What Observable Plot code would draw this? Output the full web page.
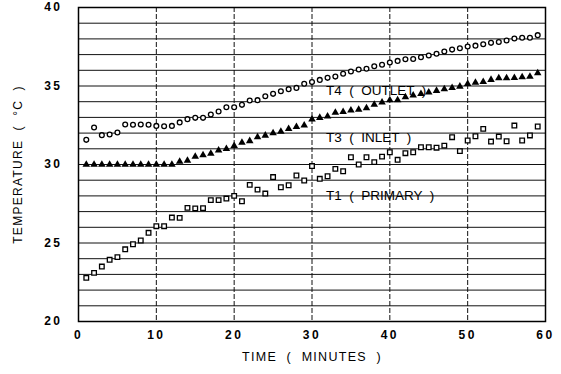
<!DOCTYPE html>
<html>
<head>
<meta charset="utf-8">
<script src="https://cdn.jsdelivr.net/npm/d3@7"></script>
<script src="https://cdn.jsdelivr.net/npm/@observablehq/plot@0.6"></script>
<style>
  html, body { margin: 0; padding: 0; background: #fff; }
  #chart svg g[aria-label="x-axis tick label"] text,
  #chart svg g[aria-label="y-axis tick label"] text { letter-spacing: 2.5px; }
  #chart svg .axtitle text { letter-spacing: 1.3px; }
</style>
</head>
<body>
<div id="chart"></div>
<script>
const minutes = [1,2,3,4,5,6,7,8,9,10,11,12,13,14,15,16,17,18,19,20,21,22,23,24,25,26,27,28,29,30,31,32,33,34,35,36,37,38,39,40,41,42,43,44,45,46,47,48,49,50,51,52,53,54,55,56,57,58,59];
const t4Outlet = [31.57,32.36,31.87,31.91,32.04,32.55,32.53,32.55,32.53,32.46,32.44,32.46,32.68,32.89,32.97,32.97,33.18,33.38,33.65,33.65,33.8,34.08,34.1,34.35,34.5,34.67,34.8,34.88,35.14,35.25,35.39,35.52,35.6,35.78,35.92,36.05,36.1,36.26,36.35,36.5,36.6,36.7,36.72,36.83,36.94,37.05,37.2,37.32,37.4,37.52,37.57,37.66,37.75,37.8,37.9,38.03,38.07,38.07,38.24];
const t3Inlet = [30.0,30.0,30.0,30.0,30.0,30.0,30.0,30.0,30.0,30.0,30.0,30.0,30.19,30.25,30.5,30.6,30.7,30.9,31.0,31.19,31.4,31.5,31.74,31.85,32.0,32.1,32.27,32.4,32.5,32.88,32.98,33.07,33.3,33.36,33.45,33.5,33.6,33.82,33.96,34.1,34.1,34.29,34.4,34.5,34.6,34.7,34.8,34.88,34.97,35.14,35.22,35.27,35.4,35.5,35.5,35.52,35.57,35.6,35.82];
const t1Primary = [22.78,23.1,23.5,23.93,24.1,24.6,24.92,25.16,25.65,26.07,26.07,26.62,26.6,27.24,27.2,27.22,27.73,27.73,27.83,28.0,27.66,28.7,28.4,28.15,29.2,28.55,28.68,29.3,28.98,29.9,29.09,29.25,29.72,29.57,30.46,30.0,30.46,30.15,30.5,30.78,30.3,30.72,30.78,31.1,31.1,31.07,31.2,31.74,30.85,31.53,31.8,32.27,31.46,31.78,31.48,32.48,31.53,31.85,32.42];

const xTicks = [0,10,20,30,40,50,60];
const yTicks = [20,25,30,35,40];
const yGrid = [20,21,22,23,24,25,26,27,28,29,30,31,32,33,34,35,36,37,38,39,40];
const seriesLabels = [
  {name: "T4  (  OUTLET  )", x: 31.8, y: 34.7},
  {name: "T3  (  INLET  )", x: 31.8, y: 31.7},
  {name: "T1  (  PRIMARY  )", x: 31.8, y: 28.0}
];
const xTitle = "TIME  (  MINUTES  )";
const yTitle = "TEMPERATURE  (  °C  )";

const rows = (vals) => minutes.map((m, i) => ({m, v: vals[i]}));

const chart = Plot.plot({
  width: 561,
  height: 374,
  marginLeft: 78,
  marginRight: 16,
  marginTop: 7,
  marginBottom: 53,
  style: {fontFamily: "Liberation Sans, Arial, sans-serif", background: "#fff", color: "#000", overflow: "visible"},
  x: {domain: [0, 60], ticks: xTicks, tickSize: 0, tickPadding: 9, label: null},
  y: {domain: [20, 40], ticks: yTicks, tickSize: 0, tickPadding: 15, label: null},
  marks: [
    Plot.ruleY(yGrid, {stroke: "#111", strokeWidth: 1}),
    Plot.ruleX(xTicks, {stroke: "#111", strokeWidth: 1, strokeDasharray: "5,2"}),
    Plot.frame({stroke: "#000", strokeWidth: 1.5}),
    Plot.axisX({ticks: xTicks, tickSize: 0, tickPadding: 9, fontSize: 12, fontWeight: "bold", label: null}),
    Plot.axisY({ticks: yTicks, tickSize: 0, tickPadding: 16, fontSize: 12, fontWeight: "bold", label: null}),
    Plot.dot(rows(t4Outlet), {x: "m", y: "v", symbol: "circle", r: 2.4, stroke: "#000", strokeWidth: 1.3, fill: "#fff"}),
    Plot.dot(rows(t3Inlet), {x: "m", y: "v", symbol: "triangle", r: 2.8, fill: "#000", stroke: "none"}),
    Plot.dot(rows(t1Primary), {x: "m", y: "v", symbol: "square", r: 2.6, stroke: "#000", strokeWidth: 1.3, fill: "#fff"}),
    Plot.text(seriesLabels, {x: "x", y: "y", text: "name", textAnchor: "start", fontSize: 13.5, fill: "#000"}),
    Plot.text([xTitle], {frameAnchor: "bottom", dy: 39, textAnchor: "middle", fontSize: 12.5, fill: "#000", className: "axtitle"}),
    Plot.text([yTitle], {frameAnchor: "left", dx: -60, textAnchor: "middle", rotate: -90, fontSize: 12, fill: "#000", className: "axtitle"})
  ]
});
document.getElementById("chart").appendChild(chart);
</script>
</body>
</html>
